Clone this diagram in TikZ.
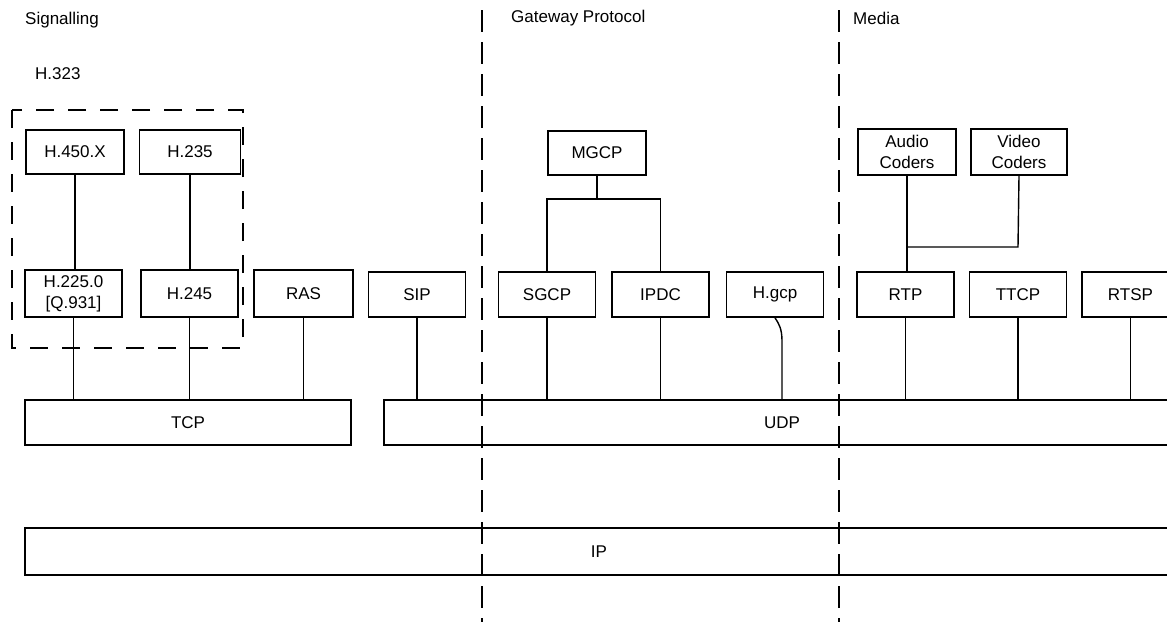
\documentclass[tikz,border=0pt]{standalone}
\usepackage{fontspec}
\setmainfont{Liberation Sans}
\begin{document}
\begin{tikzpicture}[x=1pt,y=-1pt,
  every node/.style={font=\fontsize{17}{19}\selectfont},
  box/.style={draw, line width=1.6pt, minimum width=97pt, minimum height=45pt, inner sep=0pt, align=center},
  twoline/.style={font=\fontsize{17}{21}\selectfont},
  wide/.style={draw, line width=1.6pt, minimum height=45pt, inner sep=0pt},
  link/.style={line width=1.4pt},
  sep/.style={line width=1.2pt, dash pattern=on 22pt off 10pt},
  lbl/.style={anchor=west, inner sep=0pt}]
\useasboundingbox (0,0) rectangle (1167,622);
\clip (0,0) rectangle (1167,622);
% section titles
\node[lbl] (tsig) at (25,20) {Signalling};
\node[lbl] (th323) at (35,74) {H.323};
\node[lbl] (tgw) at (511,18) {Gateway Protocol};
\node[lbl] (tmed) at (853,18) {Media};
% separators
\coordinate (g1) at (482,10); \coordinate (g2) at (482,622);
\coordinate (m1) at (839,10); \coordinate (m2) at (839,622);
\draw[sep] (g1) -- (g2);
\draw[sep] (m1) -- (m2);
% H.323 group
\draw[line width=1.4pt, dash pattern=on 18pt off 14pt] (12,110) rectangle (243,348);
% boxes
\node[box, minimum width=98pt, minimum height=44pt] (h450) at (75,152) {H.450.X};
\node[box, minimum width=101pt, minimum height=44pt] (h235) at (190,152) {H.235};
\node[box, minimum height=47pt, twoline] (h225) at (73.5,293.5) {H.225.0\\{}[Q.931]};
\node[box, minimum height=47pt] (h245) at (189.5,293.5) {H.245};
\node[box, minimum height=47pt, minimum width=99pt] (ras) at (303.5,293.5) {RAS};
\node[box] (sip) at (417,294.5) {SIP};
\node[box] (sgcp) at (547,294.5) {SGCP};
\node[box] (ipdc) at (660.5,294.5) {IPDC};
\node[box] (hgcp) at (775,294.5) {H.gcp};
\node[box] (rtp) at (905.5,294.5) {RTP};
\node[box] (ttcp) at (1018,294.5) {TTCP};
\node[box] (rtsp) at (1130.5,294.5) {RTSP};
\node[box, minimum width=98pt, minimum height=44pt] (mgcp) at (597,153) {MGCP};
\node[box, minimum width=98pt, minimum height=46pt, twoline] (audio) at (907,152) {Audio\\Coders};
\node[box, minimum width=96pt, minimum height=46pt, twoline] (video) at (1019,152) {Video\\Coders};
\node[wide, minimum width=326pt] (tcp) at (188,422.5) {TCP};
\node[wide, minimum width=796pt] (udp) at (782,422.5) {UDP};
\node[wide, minimum width=1148pt, minimum height=47pt] (ip) at (599,551.5) {IP};
% connectors, signalling
\draw[link] (h450.south) -- (h450.south |- h225.north);
\draw[link] (h235.south) -- (h235.south |- h245.north);
\draw[link] (h225.south) -- (h225.south |- tcp.north);
\draw[link] (h245.south) -- (h245.south |- tcp.north);
\draw[link] (ras.south) -- (ras.south |- tcp.north);
% gateway
\coordinate (mj) at (597,199);
\draw[link] (mgcp.south) -- (mj);
\draw[link] (sgcp.north) |- (ipdc.north |- mj) -- (ipdc.north);
\draw[link] (sip.south) -- (sip.south |- udp.north);
\draw[link] (sgcp.south) -- (sgcp.south |- udp.north);
\draw[link] (ipdc.south) -- (ipdc.south |- udp.north);
\coordinate (hgb) at (782,341);
\draw[link] (hgcp.south) .. controls +(4,6) and +(0,-12) .. (hgb) -- (hgb |- udp.north);
% media
\coordinate (vj) at (1018,247);
\draw[link] (audio.south) -- (audio.south |- rtp.north);
\draw[link] (video.south) -- (vj) -- (audio.south |- vj);
\draw[link] (rtp.south) -- (rtp.south |- udp.north);
\draw[link] (ttcp.south) -- (ttcp.south |- udp.north);
\draw[link] (rtsp.south) -- (rtsp.south |- udp.north);
\end{tikzpicture}
\end{document}
